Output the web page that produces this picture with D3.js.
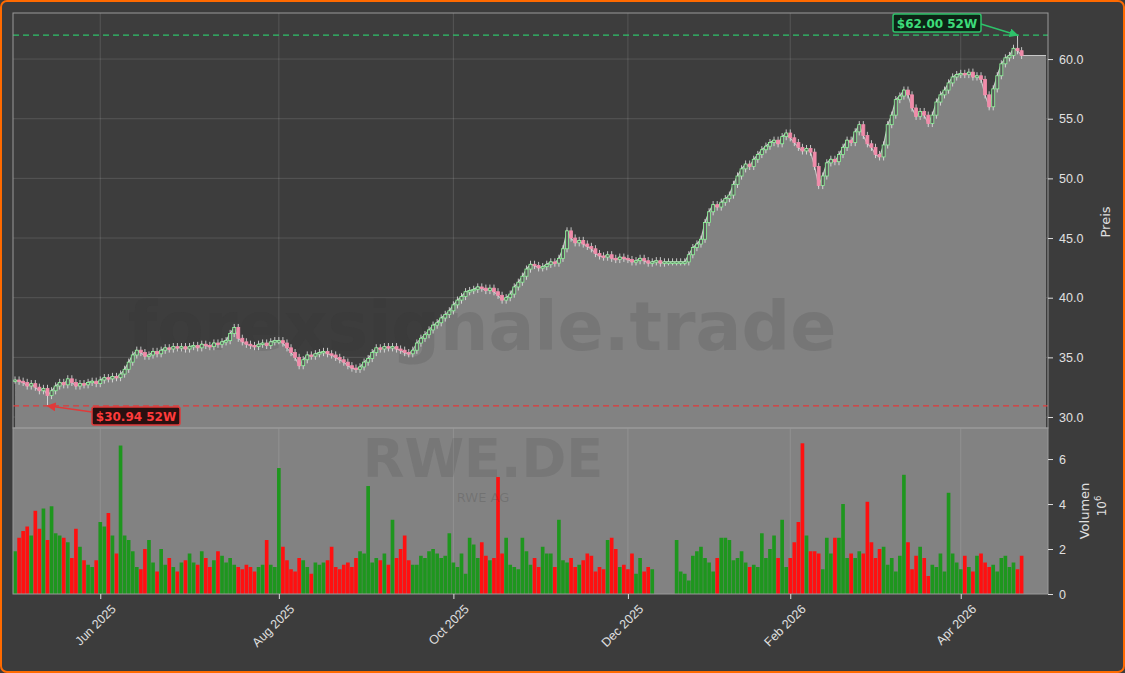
<!DOCTYPE html>
<html>
<head>
<meta charset="utf-8">
<script src="https://cdn.jsdelivr.net/npm/d3@7"></script>
<style>
  body { margin: 0; background: #3c3c3c; }
  svg { display: block; font-family: "DejaVu Sans", sans-serif; }
</style>
</head>
<body>
<svg></svg>
<script>
// daily closes per month (EUR)
const closeMay25 = [33.1,33.0,32.9,32.6,32.8,32.5,32.2,32.4,31.8,32.2,32.6,32.9,32.7,33.2,32.9,32.6,32.8,32.7,32.9,33.0,32.8]
const closeJun25 = [33.1,33.3,33.2,33.4,33.3,33.6,34.0,34.6,35.2,35.6,35.4,35.1,35.2,35.5,35.3,35.6,35.8,35.7,35.9,35.8,35.9]
const closeJul25 = [35.7,35.9,36.0,35.8,36.1,36.0,35.9,36.2,36.1,36.3,36.4,37.0,37.5,36.6,36.3,36.1,36.0,35.9,36.1,36.2,36.0,36.3,36.4]
const closeAug25 = [36.4,36.2,35.8,35.4,35.0,34.3,34.8,35.2,35.1,35.3,35.4,35.5,35.3,35.2,35.0,34.8,34.6,34.3,34.1,34.0,34.2]
const closeSep25 = [34.6,34.9,35.4,35.8,35.7,35.9,35.8,35.9,35.7,35.6,35.4,35.3,35.6,36.2,36.6,36.9,37.3,37.7,37.9,38.3,38.6,38.9]
const closeOct25 = [39.4,39.8,40.1,40.5,40.6,40.7,40.9,40.8,40.6,40.8,40.5,40.2,39.8,40.0,40.3,40.9,41.3,41.8,42.4,42.8,42.7,42.5,42.6]
const closeNov25 = [42.8,43.0,42.9,43.3,44.1,45.6,45.0,44.6,44.8,44.5,44.3,44.1,43.7,43.5,43.4,43.6,43.3,43.2,43.4,43.3]
const closeDec25 = [43.2,43.0,43.1,43.3,43.1,42.9,43.0,43.1,42.9,43.0,43.0,43.0,43.0,43.0,43.0,43.6,44.2,44.5,44.9]
const closeJan26 = [46.3,47.2,47.8,47.6,48.0,48.3,48.6,49.5,50.2,50.8,51.2,51.0,51.6,52.0,52.4,52.7,53.0,53.2,52.9,53.5,53.8]
const closeFeb26 = [53.4,53.0,52.6,52.3,52.5,52.2,51.0,49.4,50.2,51.3,51.6,51.4,52.0,52.6,53.2,53.0,53.9,54.5,53.6,52.9]
const closeMar26 = [52.6,52.0,51.8,52.8,54.5,55.3,56.6,56.9,57.4,57.0,55.9,55.2,55.6,55.3,54.6,55.3,56.4,57.0,57.4,58.0,58.5,58.7]
const closeApr26 = [58.8,58.7,58.9,58.5,58.6,58.3,57.0,56.0,57.5,58.6,59.6,60.1,60.3,60.9,60.7,60.3]

// daily volume in millions
const volMay25 = [1.9,2.5,2.8,3.0,2.6,3.7,2.9,3.8,2.4,3.9,2.7,2.6,2.5,2.3,1.6,2.9,2.1,1.5,1.3,1.2,1.5]
const volJun25 = [3.2,3.0,3.6,2.6,1.8,6.6,2.6,2.4,1.9,1.2,1.1,2.0,2.4,1.4,1.0,2.0,1.3,1.6,1.2,1.0,1.4]
const volJul25 = [1.5,1.8,1.4,1.3,1.9,1.6,1.2,1.5,1.9,1.7,1.4,1.6,1.3,1.2,1.1,1.3,1.2,1.0,1.2,1.3,2.4,1.3,1.2]
const volAug25 = [5.6,2.1,1.5,1.1,1.0,1.6,1.5,1.2,0.9,1.4,1.3,1.4,1.5,2.1,1.2,1.1,1.3,1.4,1.2,1.6,1.9]
const volSep25 = [1.8,4.8,1.4,1.6,1.5,1.8,1.3,3.3,1.6,2.0,2.6,1.5,1.3,1.3,1.7,1.6,1.9,2.0,1.8,1.6,1.7,2.7]
const volOct25 = [1.4,1.2,1.8,0.9,2.5,2.2,1.6,2.3,1.7,1.5,1.6,5.2,1.8,2.5,1.3,1.2,1.1,2.5,1.9,1.3,1.6,1.2,2.1]
const volNov25 = [1.8,1.8,1.2,3.3,1.5,1.4,1.6,1.2,1.3,1.5,1.8,1.7,1.0,1.2,1.1,2.4,2.5,2.0,1.2,1.3]
const volDec25 = [1.1,1.8,0.9,1.6,1.0,1.2,1.1,0,0,0,0,0,2.4,1.0,0.9,0.6,1.7,1.9,2.1]
const volJan26 = [1.6,1.4,1.0,1.6,2.5,2.5,2.4,1.5,1.6,1.9,1.4,1.2,1.3,1.2,2.7,1.6,2.0,2.6,1.6,3.3,1.2]
const volFeb26 = [1.6,2.3,3.2,6.7,2.6,1.9,1.9,1.8,1.1,2.5,1.8,2.5,2.5,4.0,1.6,1.8,1.6,1.9,1.8,4.1]
const volMar26 = [2.3,1.6,2.0,2.1,1.3,1.6,1.0,1.7,5.3,2.3,1.1,1.7,2.1,1.6,0.8,1.3,1.2,1.8,1.0,4.5,1.8,1.4]
const volApr26 = [1.1,1.7,1.2,1.0,1.7,1.8,1.4,1.2,1.3,1.0,1.6,1.7,1.2,1.4,1.1,1.7]

const high52 = 62.00
const low52 = 30.94
const priceTicks = [30, 35, 40, 45, 50, 55, 60]
const volTicks = [0, 2, 4, 6]
const holidays = ["2025-12-24","2025-12-25","2025-12-26","2025-12-31","2026-01-01","2026-04-03","2026-04-06"]

const closes = [].concat(closeMay25, closeJun25, closeJul25, closeAug25, closeSep25, closeOct25,
  closeNov25, closeDec25, closeJan26, closeFeb26, closeMar26, closeApr26)
const volumes = [].concat(volMay25, volJun25, volJul25, volAug25, volSep25, volOct25,
  volNov25, volDec25, volJan26, volFeb26, volMar26, volApr26)

// trading days (weekdays without exchange holidays)
const fmtDay = d3.timeFormat("%Y-%m-%d")
const dates = d3.timeDay.range(new Date(2025, 4, 2), new Date(2026, 3, 25))
  .filter(d => d.getDay() > 0 && d.getDay() < 6 && !holidays.includes(fmtDay(d)))

const data = closes.map((c, i) => {
  const o = i === 0 ? c : closes[i - 1]
  return { i, date: dates[i], open: o, close: c, vol: volumes[i],
    high: Math.max(o, c) + 0.3, low: Math.min(o, c) - 0.3 }
})
data[8].low = low52
data[data.length - 2].high = high52

const W = 1125, H = 673
const left = 13, right = 1048
const pTop = 13, pBot = 428, vBot = 594

const svg = d3.select("svg").attr("width", W).attr("height", H)

svg.append("rect").attr("x", 1).attr("y", 1).attr("width", W - 2).attr("height", H - 2)
  .attr("rx", 6).attr("fill", "#3c3c3c").attr("stroke", "#ff6a00").attr("stroke-width", 2)

const x = d3.scaleLinear().domain([-0.5, 254.5]).range([left, right])
const y = d3.scaleLinear().domain([29.08, 63.86]).range([pBot, pTop])
const yv = d3.scaleLinear().domain([0, 7.38]).range([vBot, pBot])

// panels
svg.append("rect").attr("x", left).attr("y", pTop).attr("width", right - left).attr("height", pBot - pTop)
  .attr("fill", "#3d3d3d")
svg.append("rect").attr("x", left).attr("y", pBot).attr("width", right - left).attr("height", vBot - pBot)
  .attr("fill", "#828282")

// x ticks: first trading day of every second month
const tickIdx = []
data.forEach((d, i) => {
  if (i > 0 && d.date.getMonth() !== data[i - 1].date.getMonth() && d.date.getMonth() % 2 === 1) tickIdx.push(i)
})

// grid
const grid = svg.append("g").attr("stroke", "rgba(255,255,255,0.16)").attr("stroke-width", 0.8)
priceTicks.forEach(t => grid.append("line").attr("x1", left).attr("x2", right).attr("y1", y(t)).attr("y2", y(t)))
tickIdx.forEach(t => grid.append("line").attr("x1", x(t)).attr("x2", x(t)).attr("y1", pTop).attr("y2", vBot))

// price area + close line
const lastClose = closes[closes.length - 1]
const areaPts = data.map(d => [x(d.i), y(d.close)])
areaPts.push([right - 2, y(lastClose)])
svg.append("path")
  .attr("d", d3.area().x(p => p[0]).y0(pBot).y1(p => p[1])(areaPts))
  .attr("fill", "#828282")
svg.append("path")
  .attr("d", d3.line()(areaPts))
  .attr("fill", "none").attr("stroke", "#c8c8c8").attr("stroke-width", 1.2)

// watermark
svg.append("text").attr("x", 482).attr("y", 350).attr("text-anchor", "middle")
  .attr("font-size", 68).attr("font-weight", "bold").attr("fill", "rgba(50,50,50,0.14)")
  .text("forexsignale.trade")

// candles
const cw = 3
const candles = svg.append("g").selectAll("g").data(data).enter().append("g")
candles.append("line")
  .attr("x1", d => x(d.i)).attr("x2", d => x(d.i))
  .attr("y1", d => y(d.high)).attr("y2", d => y(d.low))
  .attr("stroke", "#e8e8e8").attr("stroke-width", 0.8)
candles.append("rect")
  .attr("x", d => x(d.i) - cw / 2).attr("width", cw)
  .attr("y", d => y(Math.max(d.open, d.close)))
  .attr("height", d => Math.max(1.5, Math.abs(y(d.open) - y(d.close))))
  .attr("fill", d => d.close >= d.open ? "#5a5a5a" : "#f08caa")
  .attr("stroke", d => d.close >= d.open ? "#8ef59a" : "#f08caa")
  .attr("stroke-width", 0.8)

// 52W lines
svg.append("line").attr("x1", left).attr("x2", right).attr("y1", y(high52)).attr("y2", y(high52))
  .attr("stroke", "#2ec26a").attr("stroke-width", 1.3).attr("stroke-dasharray", "6,4")
svg.append("line").attr("x1", left).attr("x2", right).attr("y1", y(low52)).attr("y2", y(low52))
  .attr("stroke", "#e03a3a").attr("stroke-width", 1.3).attr("stroke-dasharray", "6,4")

// volume bars
svg.append("g").selectAll("rect").data(data.filter(d => d.vol > 0)).enter().append("rect")
  .attr("x", d => x(d.i - 0.45)).attr("width", x(0.9) - x(0))
  .attr("y", d => yv(d.vol)).attr("height", d => vBot - yv(d.vol))
  .attr("fill", d => d.close >= d.open ? "#1e961e" : "#ff1010")

svg.append("text").attr("x", 483).attr("y", 477).attr("text-anchor", "middle")
  .attr("font-size", 54).attr("font-weight", "bold").attr("fill", "rgba(60,60,60,0.16)").text("RWE.DE")
svg.append("text").attr("x", 483).attr("y", 502).attr("text-anchor", "middle")
  .attr("font-size", 13).attr("fill", "rgba(60,60,60,0.22)").text("RWE AG")

// frames
svg.append("rect").attr("x", left).attr("y", pTop).attr("width", right - left).attr("height", pBot - pTop)
  .attr("fill", "none").attr("stroke", "#9a9a9a")
svg.append("rect").attr("x", left).attr("y", pBot).attr("width", right - left).attr("height", vBot - pBot)
  .attr("fill", "none").attr("stroke", "#9a9a9a")

// axes
const styleAxis = g => {
  g.select(".domain").remove()
  g.selectAll("line").attr("stroke", "#dcdcdc")
  g.selectAll("text").attr("fill", "#e0e0e0").attr("font-size", 12.5)
}
svg.append("g").attr("transform", `translate(${right},0)`)
  .call(d3.axisRight(y).tickValues(priceTicks).tickFormat(d3.format(".1f")).tickSize(5).tickPadding(6))
  .call(styleAxis)
svg.append("g").attr("transform", `translate(${right},0)`)
  .call(d3.axisRight(yv).tickValues(volTicks).tickFormat(d3.format("d")).tickSize(5).tickPadding(6))
  .call(styleAxis)
const fmtMonth = d3.timeFormat("%b %Y")
const xAxis = svg.append("g").attr("transform", `translate(0,${vBot})`)
  .call(d3.axisBottom(x).tickValues(tickIdx).tickFormat(i => fmtMonth(data[i].date)).tickSize(5))
  .call(styleAxis)
xAxis.selectAll("text").attr("text-anchor", "end")
  .attr("transform", "translate(4,4) rotate(-45)").attr("dy", "0.7em")

svg.append("text").attr("transform", "translate(1110,222) rotate(-90)").attr("text-anchor", "middle")
  .attr("fill", "#e0e0e0").attr("font-size", 13).text("Preis")
svg.append("text").attr("transform", "translate(1089,511) rotate(-90)").attr("text-anchor", "middle")
  .attr("fill", "#e0e0e0").attr("font-size", 13).text("Volumen")
const exp = svg.append("text").attr("transform", "translate(1106,506) rotate(-90)").attr("text-anchor", "middle")
  .attr("fill", "#e0e0e0").attr("font-size", 12)
exp.append("tspan").text("10")
exp.append("tspan").attr("font-size", 8.5).attr("dy", -5).text("6")

// 52W annotations
svg.append("defs").html(`
  <marker id="ag" viewBox="0 0 10 10" refX="9" refY="5" markerWidth="6" markerHeight="6" orient="auto"><path d="M0,0L10,5L0,10z" fill="#2ec26a"/></marker>
  <marker id="ar" viewBox="0 0 10 10" refX="9" refY="5" markerWidth="6" markerHeight="6" orient="auto"><path d="M0,0L10,5L0,10z" fill="#e03a3a"/></marker>`)

const hiIdx = data.length - 2, loIdx = 8
svg.append("line").attr("x1", 981).attr("y1", 24).attr("x2", x(hiIdx)).attr("y2", y(high52))
  .attr("stroke", "#2ec26a").attr("stroke-width", 1.5).attr("marker-end", "url(#ag)")
svg.append("rect").attr("x", 893).attr("y", 14).attr("width", 88).attr("height", 18).attr("rx", 2)
  .attr("fill", "#0d2416").attr("stroke", "#2ec26a").attr("stroke-width", 1.5)
svg.append("text").attr("x", 937).attr("y", 27.5).attr("text-anchor", "middle").attr("font-size", 12)
  .attr("font-weight", "bold").attr("fill", "#3ddc7a").text(`$${high52.toFixed(2)} 52W`)

svg.append("line").attr("x1", 92).attr("y1", 412).attr("x2", x(loIdx)).attr("y2", y(low52))
  .attr("stroke", "#e03a3a").attr("stroke-width", 1.5).attr("marker-end", "url(#ar)")
svg.append("rect").attr("x", 92).attr("y", 407).attr("width", 88).attr("height", 18).attr("rx", 2)
  .attr("fill", "#2a1010").attr("stroke", "#e03a3a").attr("stroke-width", 1.5)
svg.append("text").attr("x", 136).attr("y", 420.5).attr("text-anchor", "middle").attr("font-size", 12)
  .attr("font-weight", "bold").attr("fill", "#ff3b3b").text(`$${low52.toFixed(2)} 52W`)
</script>
</body>
</html>
